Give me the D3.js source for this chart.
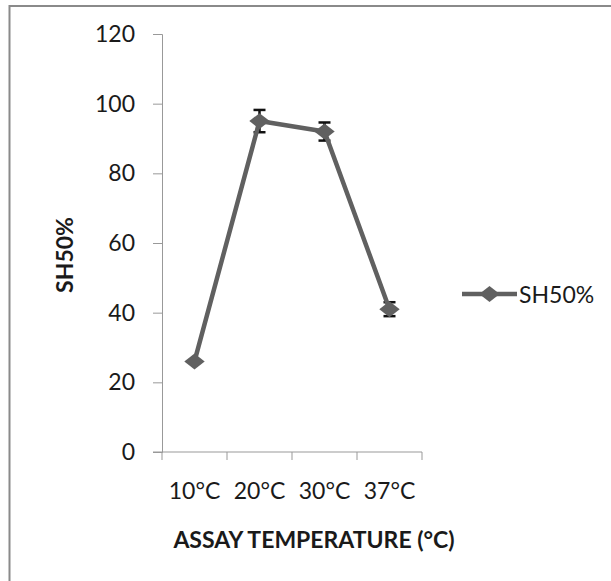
<!DOCTYPE html>
<html>
<head>
<meta charset="utf-8">
<script src="https://cdn.jsdelivr.net/npm/d3@7"></script>
<style>
  body { margin: 0; background: #fff; }
  text { font-family: Lato, "Open Sans", sans-serif; fill: #1a1a1a; }
</style>
</head>
<body>
<svg id="chart" width="611" height="581"></svg>
<script>
// data
const categories = ["10°C", "20°C", "30°C", "37°C"];
const sh50 = [26, 95, 92, 41];
const sh50Err = [0, 3.2, 2.6, 2];
const yTicks = [0, 20, 40, 60, 80, 100, 120];

const svg = d3.select("#chart");
const lineColor = "#606060";
const fontSize = 23;

// outer chart frame (runs off the right/bottom edge)
svg.append("rect")
  .attr("x", 9.5).attr("y", 6)
  .attr("width", 640).attr("height", 620)
  .attr("fill", "none")
  .attr("stroke", "#8a8a8a")
  .attr("stroke-width", 2);

const plotL = 162, plotR = 422, plotT = 34, plotB = 452;

const x = d3.scaleBand().domain(categories).range([plotL, plotR]);
const y = d3.scaleLinear().domain([0, 120]).range([plotB, plotT]);

// y axis
const yAxis = svg.append("g")
  .attr("transform", `translate(${plotL},0)`)
  .call(d3.axisLeft(y).tickValues(yTicks).tickSize(9).tickPadding(18));
yAxis.selectAll("line, path").attr("stroke", "#999");
yAxis.selectAll("text")
  .attr("font-size", fontSize)
  .attr("font-family", "Lato, sans-serif")
  .attr("fill", "#1a1a1a");

// x axis: ticks sit on category boundaries
const xAxis = svg.append("g")
  .attr("transform", `translate(0,${plotB})`);
xAxis.append("line")
  .attr("x1", plotL - 9).attr("x2", plotR)
  .attr("stroke", "#999");
xAxis.selectAll("line.tick")
  .data(categories.map(c => x(c)).concat([plotR]))
  .join("line")
  .attr("class", "tick")
  .attr("x1", d => d).attr("x2", d => d)
  .attr("y1", 0).attr("y2", 8)
  .attr("stroke", "#999");
xAxis.selectAll("text")
  .data(categories)
  .join("text")
  .attr("x", d => x(d) + x.bandwidth() / 2)
  .attr("y", 47)
  .attr("text-anchor", "middle")
  .attr("font-size", fontSize)
  .text(d => d);

// axis titles
svg.append("text")
  .attr("transform", `translate(73,${(plotT + plotB) / 2 + 12}) rotate(-90)`)
  .attr("text-anchor", "middle")
  .attr("font-size", fontSize)
  .attr("font-weight", "bold")
  .text("SH50%");
svg.append("text")
  .attr("x", 314).attr("y", 548)
  .attr("text-anchor", "middle")
  .attr("font-size", fontSize)
  .attr("font-weight", "bold")
  .text("ASSAY TEMPERATURE (°C)");

const cx = (d, i) => x(categories[i]) + x.bandwidth() / 2;

// error bars (drawn first so the line and markers sit on top)
const errG = svg.append("g").attr("stroke", "#111").attr("stroke-width", 2.5);
sh50.forEach((v, i) => {
  if (!sh50Err[i]) return;
  const c = cx(v, i);
  errG.append("line").attr("x1", c).attr("x2", c).attr("y1", y(v + sh50Err[i])).attr("y2", y(v - sh50Err[i]));
  [v + sh50Err[i], v - sh50Err[i]].forEach(e => {
    errG.append("line").attr("x1", c - 6).attr("x2", c + 6).attr("y1", y(e)).attr("y2", y(e));
  });
});

// series line
const line = d3.line()
  .x((d, i) => cx(d, i))
  .y(d => y(d));
svg.append("path")
  .datum(sh50)
  .attr("d", line)
  .attr("fill", "none")
  .attr("stroke", lineColor)
  .attr("stroke-width", 4.5)
  .attr("stroke-linejoin", "round");

// diamond markers
const diamond = d3.symbol().type(d3.symbolDiamond).size(120);
svg.selectAll("path.marker")
  .data(sh50)
  .join("path")
  .attr("class", "marker")
  .attr("transform", (d, i) => `translate(${cx(d, i)},${y(d)}) rotate(-90) scale(1.35,1)`)
  .attr("d", diamond)
  .attr("fill", lineColor);

// legend
const lg = svg.append("g").attr("transform", "translate(462,294)");
lg.append("line").attr("x1", 0).attr("x2", 55).attr("stroke", lineColor).attr("stroke-width", 4.5);
lg.append("path")
  .attr("transform", "translate(27.5,0) rotate(-90) scale(1.35,1)")
  .attr("d", diamond)
  .attr("fill", lineColor);
lg.append("text")
  .attr("x", 57).attr("y", 8.5)
  .attr("font-size", fontSize)
  .text("SH50%");
</script>
</body>
</html>
